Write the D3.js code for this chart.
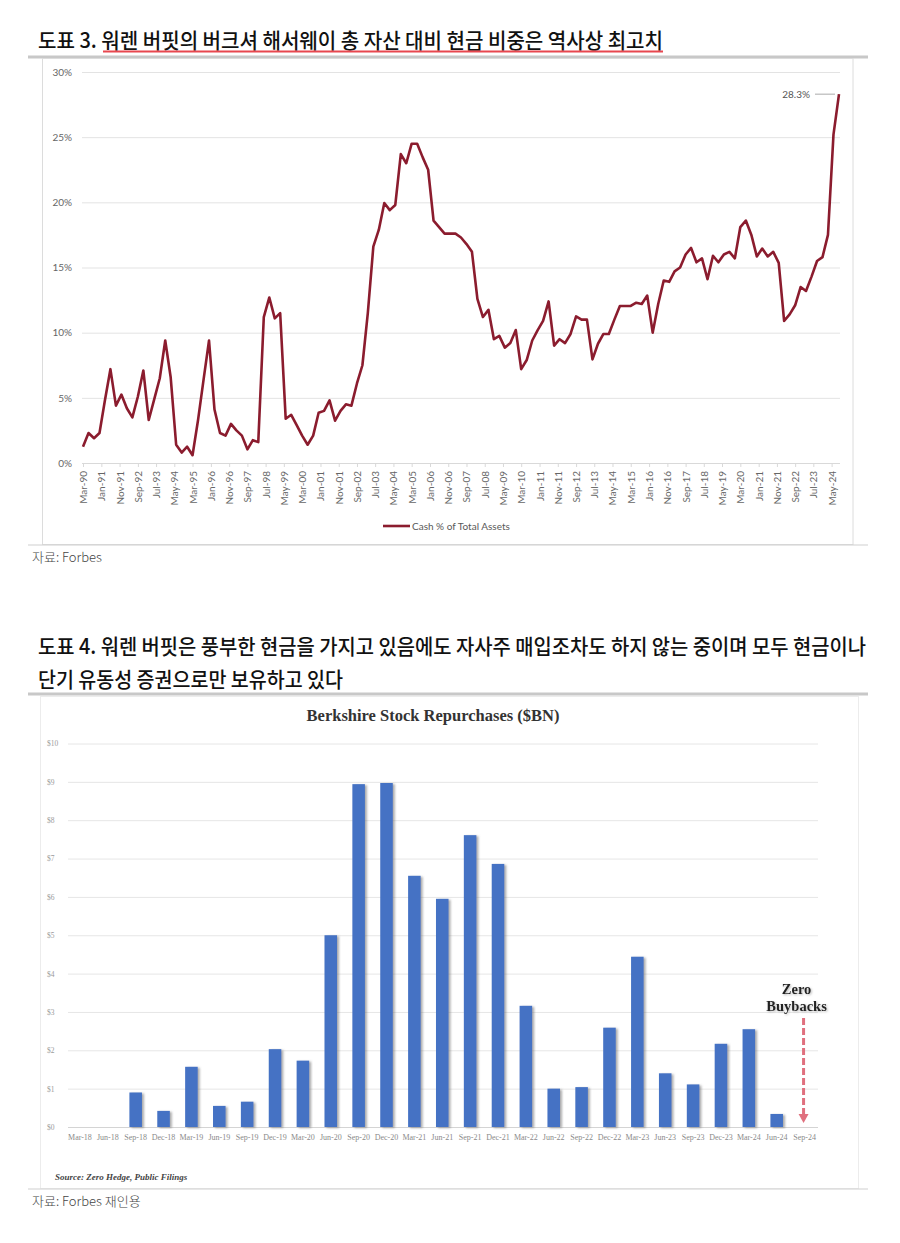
<!DOCTYPE html>
<html><head><meta charset="utf-8">
<script src="https://cdn.jsdelivr.net/npm/d3@7"></script>
<style>
body{margin:0;background:#fff;}
svg{display:block;}
</style></head><body>
<svg id="c" width="900" height="1243"></svg>
<script>
// ---------- Chart 1 data: Cash % of Total Assets (quarterly) ----------
const cashQuarters = [
 "Mar-90","Jun-90","Sep-90","Dec-90","Mar-91","Jun-91","Sep-91","Dec-91",
 "Mar-92","Jun-92","Sep-92","Dec-92","Mar-93","Jun-93","Sep-93","Dec-93",
 "Mar-94","Jun-94","Sep-94","Dec-94","Mar-95","Jun-95","Sep-95","Dec-95",
 "Mar-96","Jun-96","Sep-96","Dec-96","Mar-97","Jun-97","Sep-97","Dec-97",
 "Mar-98","Jun-98","Sep-98","Dec-98","Mar-99","Jun-99","Sep-99","Dec-99",
 "Mar-00","Jun-00","Sep-00","Dec-00","Mar-01","Jun-01","Sep-01","Dec-01",
 "Mar-02","Jun-02","Sep-02","Dec-02","Mar-03","Jun-03","Sep-03","Dec-03",
 "Mar-04","Jun-04","Sep-04","Dec-04","Mar-05","Jun-05","Sep-05","Dec-05",
 "Mar-06","Jun-06","Sep-06","Dec-06","Mar-07","Jun-07","Sep-07","Dec-07",
 "Mar-08","Jun-08","Sep-08","Dec-08","Mar-09","Jun-09","Sep-09","Dec-09",
 "Mar-10","Jun-10","Sep-10","Dec-10","Mar-11","Jun-11","Sep-11","Dec-11",
 "Mar-12","Jun-12","Sep-12","Dec-12","Mar-13","Jun-13","Sep-13","Dec-13",
 "Mar-14","Jun-14","Sep-14","Dec-14","Mar-15","Jun-15","Sep-15","Dec-15",
 "Mar-16","Jun-16","Sep-16","Dec-16","Mar-17","Jun-17","Sep-17","Dec-17",
 "Mar-18","Jun-18","Sep-18","Dec-18","Mar-19","Jun-19","Sep-19","Dec-19",
 "Mar-20","Jun-20","Sep-20","Dec-20","Mar-21","Jun-21","Sep-21","Dec-21",
 "Mar-22","Jun-22","Sep-22","Dec-22","Mar-23","Jun-23","Sep-23","Dec-23",
 "Mar-24","Jun-24","Sep-24"
];
const cashValues = [
 1.25,2.3,1.9,2.3,4.8,7.2,4.4,5.25,
 4.2,3.5,5.1,7.1,3.3,4.9,6.5,9.4,
 6.6,1.4,0.8,1.25,0.6,3.3,6.4,9.4,
 4.1,2.3,2.1,3.0,2.5,2.1,1.05,1.75,
 1.6,11.2,12.7,11.1,11.5,3.4,3.7,2.9,
 2.1,1.4,2.1,3.85,4.0,4.8,3.25,4.0,
 4.5,4.4,6.1,7.5,11.5,16.6,17.9,19.95,
 19.4,19.8,23.7,23.0,24.5,24.5,23.45,22.5,
 18.6,18.1,17.6,17.6,17.6,17.3,16.8,16.2,
 12.6,11.2,11.75,9.5,9.75,8.85,9.2,10.2,
 7.2,7.9,9.4,10.2,10.9,12.4,9.0,9.5,
 9.2,9.9,11.25,11.0,11.0,7.95,9.15,9.9,
 9.9,11.0,12.05,12.05,12.05,12.3,12.2,12.85,
 10.0,12.2,14.0,13.9,14.7,15.0,16.0,16.5,
 15.4,15.7,14.1,15.9,15.4,16.0,16.2,15.7,
 18.1,18.6,17.5,15.85,16.45,15.85,16.2,15.35,
 10.9,11.4,12.1,13.5,13.2,14.3,15.5,15.8,
 17.5,25.2,28.3
];
const cashTickLabels = [
 "Mar-90","Jan-91","Nov-91","Sep-92","Jul-93","May-94","Mar-95","Jan-96","Nov-96",
 "Sep-97","Jul-98","May-99","Mar-00","Jan-01","Nov-01","Sep-02","Jul-03","May-04",
 "Mar-05","Jan-06","Nov-06","Sep-07","Jul-08","May-09","Mar-10","Jan-11","Nov-11",
 "Sep-12","Jul-13","May-14","Mar-15","Jan-16","Nov-16","Sep-17","Jul-18","May-19",
 "Mar-20","Jan-21","Nov-21","Sep-22","Jul-23","May-24"
];
const cashYTicks = [0,5,10,15,20,25,30];
const cashSeriesName = "Cash % of Total Assets";

// ---------- Chart 2 data: Berkshire Stock Repurchases ($BN) ----------
const buybackQuarters = [
 "Mar-18","Jun-18","Sep-18","Dec-18","Mar-19","Jun-19","Sep-19","Dec-19",
 "Mar-20","Jun-20","Sep-20","Dec-20","Mar-21","Jun-21","Sep-21","Dec-21",
 "Mar-22","Jun-22","Sep-22","Dec-22","Mar-23","Jun-23","Sep-23","Dec-23",
 "Mar-24","Jun-24","Sep-24"
];
const buybackValues = [
 0,0,0.90,0.42,1.57,0.55,0.66,2.03,
 1.73,5.0,8.94,8.97,6.55,5.95,7.61,6.86,
 3.16,1.0,1.04,2.59,4.44,1.40,1.11,2.17,
 2.55,0.34,0
];
const buybackYTicks = [0,1,2,3,4,5,6,7,8,9,10];

// ---------- Drawing ----------
const svg = d3.select("#c");
const KR = "'Noto Sans CJK KR','Noto Sans',sans-serif";
const parse = d3.timeParse("%b-%y");

const defs = svg.append("defs");
const sh = defs.append("filter").attr("id","barShadow").attr("x","-30%").attr("y","-10%").attr("width","160%").attr("height","120%");
sh.append("feDropShadow").attr("dx",2).attr("dy",1).attr("stdDeviation",1).attr("flood-color","#666").attr("flood-opacity",0.55);
const tsh = defs.append("filter").attr("id","txtShadow").attr("x","-20%").attr("y","-30%").attr("width","140%").attr("height","160%");
tsh.append("feDropShadow").attr("dx",1).attr("dy",1).attr("stdDeviation",1.2).attr("flood-color","#888").attr("flood-opacity",0.6);

// condensed Korean heading: narrower font size, stretched vertically
function heading(x, y, len, str){
  svg.append("text").attr("transform",`translate(${x},${y}) scale(1,1.13)`)
    .attr("textLength",len).attr("lengthAdjust","spacingAndGlyphs")
    .style("font-family",KR).style("font-size","18.6px").style("font-weight",500).attr("fill","#111")
    .text(str);
}

// Section 1 header
heading(38, 48, 625, "도표 3. 워렌 버핏의 버크셔 해서웨이 총 자산 대비 현금 비중은 역사상 최고치");
svg.append("line").attr("x1",103).attr("x2",663).attr("y1",51.5).attr("y2",51.5)
  .attr("stroke","#e8474f").attr("stroke-width",2);
svg.append("line").attr("x1",28).attr("x2",868).attr("y1",57).attr("y2",57)
  .attr("stroke","#c8c8c8").attr("stroke-width",3);

// Chart 1 frame
svg.append("rect").attr("x",42.5).attr("y",58.5).attr("width",810.5).attr("height",486)
  .attr("fill","none").attr("stroke","#dcdcdc").attr("stroke-width",1);
svg.append("line").attr("x1",28).attr("x2",868).attr("y1",545).attr("y2",545)
  .attr("stroke","#cfcfcf").attr("stroke-width",1.2);
svg.append("text").attr("x",32).attr("y",562)
  .style("font-family",KR).style("font-size","13px").style("font-weight",300).attr("fill","#444").text("자료: Forbes");

// Chart 1 scales
const cashData = cashQuarters.map((q,i)=>({date:parse(q), v:cashValues[i]}));
const x1 = d3.scaleTime().domain([parse(cashQuarters[0]), parse(cashQuarters[cashQuarters.length-1])]).range([83,839]);
const y1 = d3.scaleLinear().domain([0,30]).range([463,72]);
const g1 = svg.append("g");

const yAx1 = g1.append("g").attr("transform","translate(82,0)")
  .call(d3.axisLeft(y1).tickValues(cashYTicks).tickSize(-(840-82)).tickPadding(10).tickFormat(d=>d+"%"));
yAx1.select(".domain").remove();
yAx1.selectAll(".tick line").attr("stroke","#e3e3e3").attr("stroke-width",1);
yAx1.selectAll(".tick text").attr("fill","#666").style("font-family","Lato,'Open Sans',sans-serif").style("font-size","10px");

const xAx1 = g1.append("g").attr("transform","translate(0,463)")
  .call(d3.axisBottom(x1).tickValues(cashTickLabels.map(parse)).tickFormat(d3.timeFormat("%b-%y")).tickSize(4).tickSizeOuter(0));
xAx1.select(".domain").attr("stroke","#d9d9d9").attr("d","M82,0.5H840");
xAx1.selectAll(".tick line").attr("stroke","#d9d9d9");
xAx1.selectAll(".tick text")
  .attr("transform","rotate(-90)").attr("x",-8).attr("y",0).attr("dy","0.35em")
  .style("text-anchor","end").attr("fill","#666")
  .style("font-family","Lato,'Open Sans',sans-serif").style("font-size","10px");

const lineColor = "#8b1c2e";
g1.append("path").datum(cashData)
  .attr("d", d3.line().x(d=>x1(d.date)).y(d=>y1(d.v)))
  .attr("fill","none").attr("stroke",lineColor).attr("stroke-width",2.6)
  .attr("stroke-linejoin","round");

const last = cashData[cashData.length-1];
g1.append("line").attr("x1",815).attr("x2",x1(last.date)-4).attr("y1",y1(last.v)).attr("y2",y1(last.v))
  .attr("stroke","#aaa").attr("stroke-width",1);
g1.append("text").attr("x",810).attr("y",y1(last.v)).attr("dy","0.35em").attr("text-anchor","end")
  .style("font-family","Lato,'Open Sans',sans-serif").style("font-size","10px").attr("fill","#555")
  .text(last.v.toFixed(1)+"%");

// legend
g1.append("line").attr("x1",383).attr("x2",410).attr("y1",526).attr("y2",526)
  .attr("stroke",lineColor).attr("stroke-width",2.6);
g1.append("text").attr("x",412).attr("y",526).attr("dy","0.35em")
  .style("font-family","Lato,'Open Sans',sans-serif").style("font-size","10px").attr("fill","#595959")
  .text(cashSeriesName);

// Section 2 header
heading(38, 654, 828, "도표 4. 워렌 버핏은 풍부한 현금을 가지고 있음에도 자사주 매입조차도 하지 않는 중이며 모두 현금이나");
heading(38, 687, 305, "단기 유동성 증권으로만 보유하고 있다");
svg.append("line").attr("x1",28).attr("x2",868).attr("y1",694).attr("y2",694)
  .attr("stroke","#c8c8c8").attr("stroke-width",3);

// Chart 2 frame
svg.append("rect").attr("x",40.5).attr("y",696.5).attr("width",818).attr("height",492)
  .attr("fill","none").attr("stroke","#ececec").attr("stroke-width",1);
svg.append("line").attr("x1",28).attr("x2",868).attr("y1",1189).attr("y2",1189)
  .attr("stroke","#cfcfcf").attr("stroke-width",1.2);
svg.append("text").attr("x",32).attr("y",1206)
  .style("font-family",KR).style("font-size","13px").style("font-weight",300).attr("fill","#444").text("자료: Forbes 재인용");

// Chart 2
const g2 = svg.append("g");
const SERIF = "'Liberation Serif','DejaVu Serif',serif";
g2.append("text").attr("x",433).attr("y",721).attr("text-anchor","middle")
  .style("font-family",SERIF).style("font-size","16.5px").style("font-weight","bold").attr("fill","#333")
  .text("Berkshire Stock Repurchases ($BN)");

const x2 = d3.scaleBand().domain(buybackQuarters).range([66,818.5]).paddingInner(0.55).paddingOuter(0.275);
const y2 = d3.scaleLinear().domain([0,10]).range([1127,743.5]);

const yAx2 = g2.append("g").attr("transform","translate(68,0)")
  .call(d3.axisLeft(y2).tickValues(buybackYTicks).tickSize(-(818-68)).tickFormat(d=>"$"+d));
yAx2.select(".domain").remove();
yAx2.selectAll(".tick line").attr("stroke","#e6e6e6");
yAx2.selectAll(".tick text").attr("x",-21).attr("text-anchor","start").attr("fill","#9a9a9a")
  .style("font-family",SERIF).style("font-size","7.5px");

const xAx2 = g2.append("g").attr("transform","translate(0,1127)")
  .call(d3.axisBottom(x2).tickSize(0).tickPadding(7));
xAx2.select(".domain").attr("stroke","#d4d4d4").attr("d","M68,0.5H818");
xAx2.selectAll(".tick text").attr("fill","#8a8a8a").style("font-family",SERIF).style("font-size","8px");

g2.append("g").selectAll("rect").data(buybackQuarters).join("rect")
  .attr("x",d=>x2(d)).attr("width",x2.bandwidth())
  .attr("y",(d,i)=>y2(buybackValues[i])).attr("height",(d,i)=>y2(0)-y2(buybackValues[i]))
  .attr("fill","#4472c4").attr("filter","url(#barShadow)");

// Zero buybacks annotation
const lastQ = buybackQuarters[buybackQuarters.length-1];
const ax = x2(lastQ) + x2.bandwidth()/2;
const zt = g2.append("g").attr("filter","url(#txtShadow)");
zt.append("text").attr("x",ax-8).attr("y",994).attr("text-anchor","middle")
  .style("font-family",SERIF).style("font-size","14.5px").style("font-weight","bold").attr("fill","#222").text("Zero");
zt.append("text").attr("x",ax-8).attr("y",1011).attr("text-anchor","middle")
  .style("font-family",SERIF).style("font-size","14.5px").style("font-weight","bold").attr("fill","#222").text("Buybacks");
g2.append("line").attr("x1",ax-1).attr("x2",ax-1).attr("y1",1018).attr("y2",y2(0)-12)
  .attr("stroke","#e0707e").attr("stroke-width",3).attr("stroke-dasharray","7,3");
g2.append("path").attr("d",`M${ax-6},${y2(0)-13}L${ax+4},${y2(0)-13}L${ax-1},${y2(0)-4}Z`).attr("fill","#e0707e");

g2.append("text").attr("x",55).attr("y",1180)
  .style("font-family",SERIF).style("font-size","9px").style("font-style","italic").style("font-weight","bold").attr("fill","#444")
  .text("Source: Zero Hedge, Public Filings");
</script>
</body></html>
